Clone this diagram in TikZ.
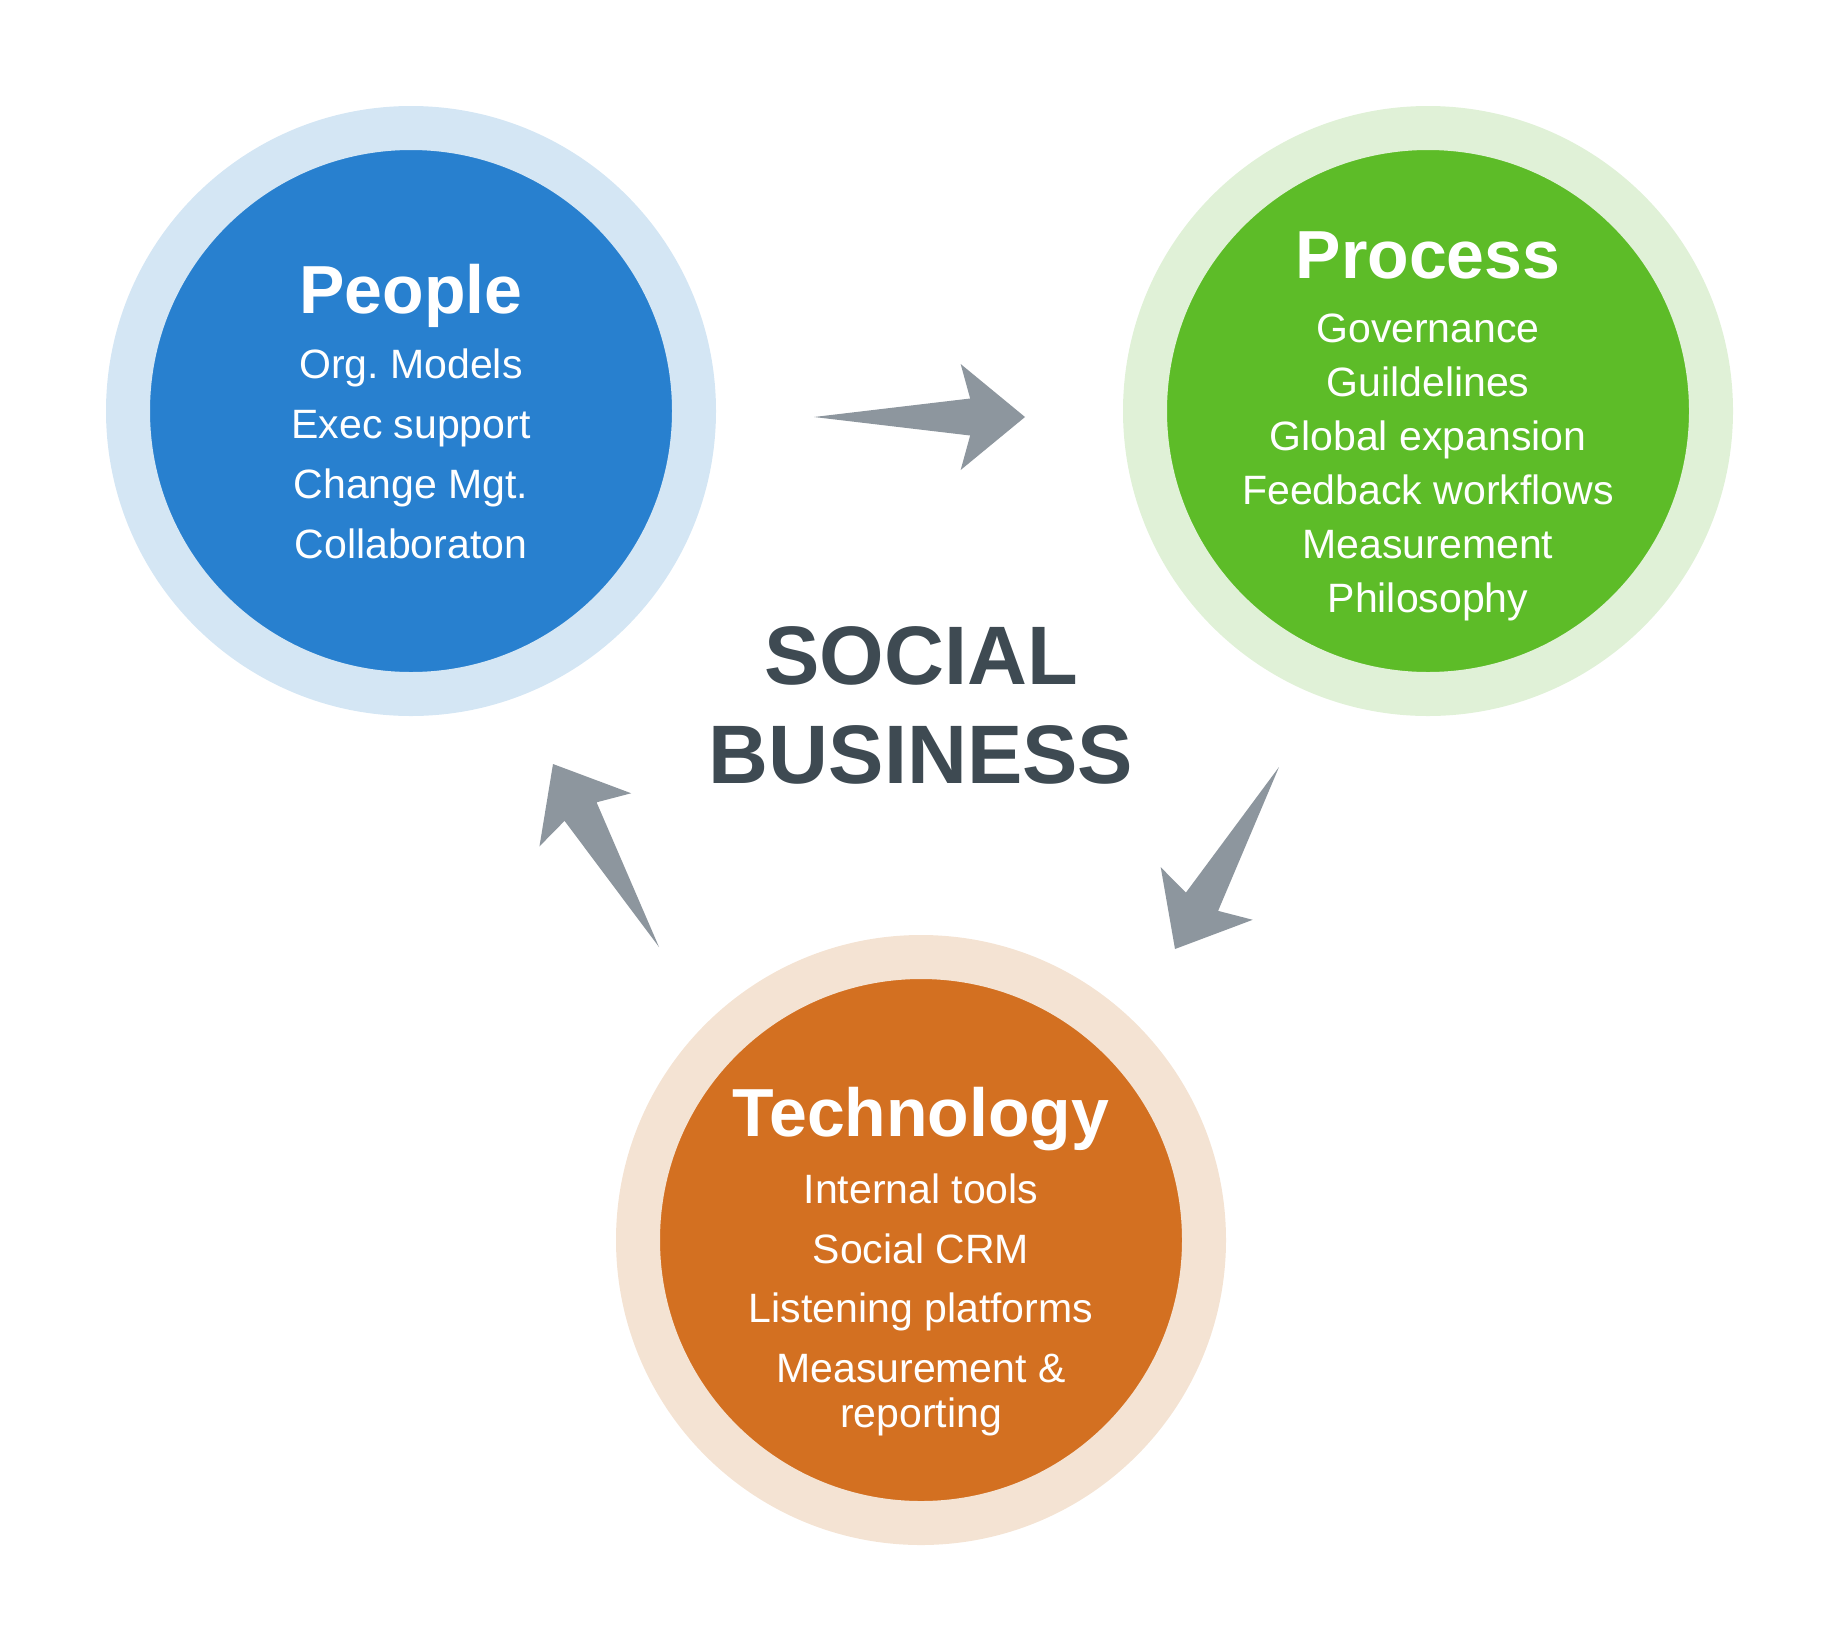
\documentclass[tikz,border=0pt]{standalone}
\usepackage{fontspec}
\setmainfont{Liberation Sans}
\usetikzlibrary{calc}
\frenchspacing

\definecolor{peopleblue}{HTML}{2880CF}
\definecolor{peoplering}{HTML}{D4E6F4}
\definecolor{processgreen}{HTML}{5DBC28}
\definecolor{processring}{HTML}{E0F1D7}
\definecolor{techorange}{HTML}{D37021}
\definecolor{techring}{HTML}{F4E3D3}
\definecolor{arrowgray}{HTML}{8D969E}
\definecolor{slate}{HTML}{3E4A52}

\tikzset{
  ring/.style={circle, inner sep=0pt, minimum size=566pt, line width=44pt},
  head/.style={white, anchor=base, font=\fontsize{68}{80}\selectfont\bfseries},
  item/.style={white, anchor=base, font=\fontsize{41}{45}\selectfont},
  hub/.style={slate, anchor=base, font=\fontsize{83}{99}\selectfont\bfseries},
}

% flat arrow from tail point to tip point
\newcommand{\flatarrow}[2]{%
  \fill[arrowgray] (#1)
    -- ($(#1)!0.74!(#2)!18.5pt!90:(#2)$)
    -- ($(#1)!0.695!(#2)!53pt!90:(#2)$)
    -- (#2)
    -- ($(#1)!0.695!(#2)!53pt!-90:(#2)$)
    -- ($(#1)!0.74!(#2)!18.5pt!-90:(#2)$)
    -- cycle;}

\begin{document}
\begin{tikzpicture}[x=1pt, y=-1pt]
  \useasboundingbox (0,0) rectangle (1839,1650);

  % the three circles
  \node[ring, draw=peoplering, fill=peopleblue] (people) at (411,411) {};
  \node[ring, draw=processring, fill=processgreen] (process) at (1428,411) {};
  \node[ring, draw=techring, fill=techorange] (tech) at (921,1240) {};

  % people
  \node[head] (peopleT) at (411,313) {People};
  \foreach \t [count=\i] in {Org. Models, Exec support, Change Mgt., Collaboraton}
    \node[item] (people-\i) at (411,318+60*\i) {\t};

  % process
  \node[head] (processT) at (1428,278) {Process};
  \foreach \t [count=\i] in {Governance, Guildelines, Global expansion,
      Feedback workflows, Measurement, Philosophy}
    \node[item] (process-\i) at (1428,288+54*\i) {\t};

  % technology
  \node[head] (techT) at (921,1136) {Technology};
  \foreach \t [count=\i] in {Internal tools, Social CRM, Listening platforms,
      Measurement \&}
    \node[item] (tech-\i) at (921,1144+59.6*\i) {\t};
  \node[item] (tech-5) at (921,1427.5) {reporting};

  % centre
  \node[hub] (social) at (921,684) {SOCIAL};
  \node[hub] (business) at (921,783) {BUSINESS};

  % arrows
  \coordinate (a1) at (814,417);  \coordinate (b1) at (1025,417);
  \coordinate (a2) at (1279,767); \coordinate (b2) at (1175,949);
  \coordinate (a3) at (659,947);  \coordinate (b3) at (553,764);
  \flatarrow{a1}{b1}
  \flatarrow{a2}{b2}
  \flatarrow{a3}{b3}
\end{tikzpicture}
\end{document}
